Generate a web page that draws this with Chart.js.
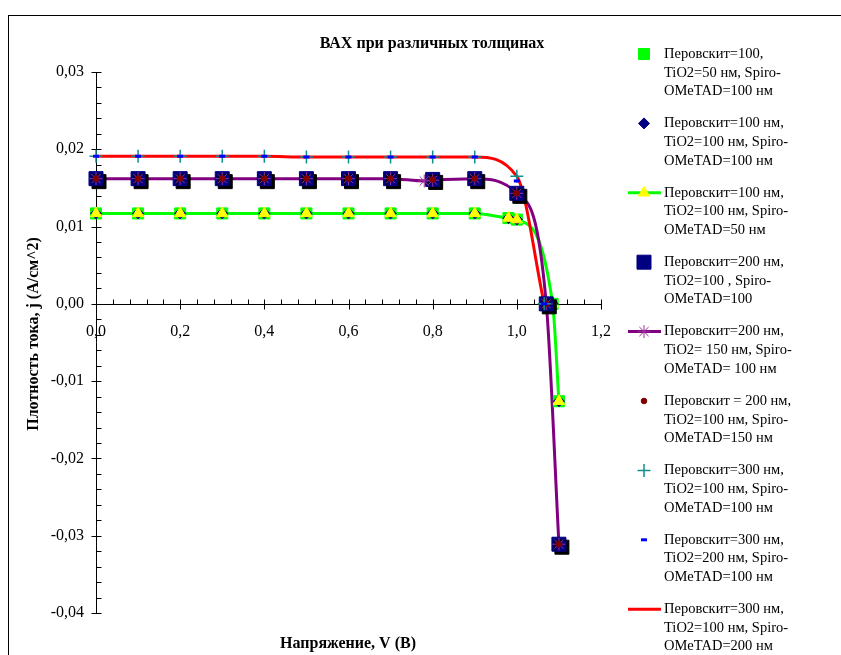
<!DOCTYPE html>
<html>
<head>
<meta charset="utf-8">
<title>ВАХ при различных толщинах</title>
<script src="https://cdn.jsdelivr.net/npm/chart.js@4/dist/chart.umd.min.js"></script>
<style>
  html, body { margin: 0; padding: 0; background: #fff; }
  canvas { display: block; }
</style>
</head>
<body>
<canvas id="ivChart" width="841" height="655"></canvas>
<script>
// напряжение V (B) и плотность тока j (А/см^2)
const vThin = [0, 0.1, 0.2, 0.3, 0.4, 0.5, 0.6, 0.7, 0.8, 0.9, 0.98, 1.0, 1.085, 1.1];
const jThin = [0.0117, 0.0117, 0.0117, 0.0117, 0.0117, 0.0117, 0.0117, 0.0117, 0.0117, 0.0117, 0.0111, 0.0109, 0, -0.0126];

const vMid = [0, 0.1, 0.2, 0.3, 0.4, 0.5, 0.6, 0.7, 0.8, 0.9, 1.0, 1.07, 1.1];
const jMid = [0.0162, 0.0162, 0.0162, 0.0162, 0.0162, 0.0162, 0.0162, 0.0162, 0.0161, 0.0162, 0.0143, 0, -0.0311];

const vMidStar = [0, 0.1, 0.2, 0.3, 0.4, 0.5, 0.6, 0.7, 0.78, 0.8, 0.9, 1.0, 1.07, 1.1];
const jMidStar = [0.0162, 0.0162, 0.0162, 0.0162, 0.0162, 0.0162, 0.0162, 0.0162, 0.0159, 0.016, 0.0162, 0.0143, 0, -0.0311];

const vThick = [0, 0.1, 0.2, 0.3, 0.4, 0.5, 0.6, 0.7, 0.8, 0.9, 1.0, 1.065];
const jThick = [0.0191, 0.0191, 0.0191, 0.0191, 0.0191, 0.019, 0.019, 0.019, 0.019, 0.019, 0.0165, 0];
const jThickDash = [0.0191, 0.0191, 0.0191, 0.0191, 0.0191, 0.019, 0.019, 0.019, 0.019, 0.019, 0.0159, 0];

const xTickValues = [0, 0.2, 0.4, 0.6, 0.8, 1.0, 1.2];
const xTickLabels = ['0,0', '0,2', '0,4', '0,6', '0,8', '1,0', '1,2'];
const yTickValues = [-0.04, -0.03, -0.02, -0.01, 0, 0.01, 0.02, 0.03];
const yTickLabels = ['-0,04', '-0,03', '-0,02', '-0,01', '0,00', '0,01', '0,02', '0,03'];

const seriesNames = [
  ['Перовскит=100,', 'TiO2=50 нм, Spiro-', 'OMeTAD=100 нм'],
  ['Перовскит=100 нм,', 'TiO2=100 нм, Spiro-', 'OMeTAD=100 нм'],
  ['Перовскит=100 нм,', 'TiO2=100 нм, Spiro-', 'OMeTAD=50 нм'],
  ['Перовскит=200 нм,', 'TiO2=100 , Spiro-', 'OMeTAD=100'],
  ['Перовскит=200 нм,', 'TiO2= 150 нм, Spiro-', 'OMeTAD= 100 нм'],
  ['Перовскит = 200 нм,', 'TiO2=100 нм, Spiro-', 'OMeTAD=150 нм'],
  ['Перовскит=300 нм,', 'TiO2=100 нм, Spiro-', 'OMeTAD=100 нм'],
  ['Перовскит=300 нм,', 'TiO2=200 нм, Spiro-', 'OMeTAD=100 нм'],
  ['Перовскит=300 нм,', 'TiO2=100 нм, Spiro-', 'OMeTAD=200 нм']
];

const seriesData = [
  [vThin, jThin], [vThin, jThin], [vThin, jThin],
  [vMid, jMid], [vMidStar, jMidStar], [vMid, jMid],
  [vThick, jThick], [vThick, jThickDash], [vThick, jThick]
];

const styles = [
  { marker: 'rect', r: 7.8, fill: '#00ff00' },
  { marker: 'rectRot', r: 5.5, fill: '#000080' },
  { marker: 'triangle', r: 6.5, fill: '#ffff00', line: '#00ff00' },
  { marker: 'rect', r: 9.9, fill: '#000080', shadow: true },
  { marker: 'star', r: 6.5, stroke: '#9b2f9b', line: '#800080' },
  { marker: 'circle', r: 2.8, fill: '#800000' },
  { marker: 'cross', r: 6.5, stroke: '#108f8f', bw: 1.5 },
  { marker: 'line', r: 3, stroke: '#0000ff', bw: 3 },
  { marker: false, line: '#ff0000' }
];

const datasets = [];
seriesData.forEach(([vs, js], i) => {
  const st = styles[i];
  const pts = vs.map((v, k) => ({ x: v, y: js[k] }));
  if (st.line) {
    datasets.push({
      data: pts, showLine: true, borderColor: st.line, borderWidth: 3,
      pointRadius: 0, pointHoverRadius: 0, cubicInterpolationMode: 'monotone', fill: false,
      clip: false, order: 100 - i
    });
  }
  if (st.marker) {
    datasets.push({
      data: pts, showLine: false, pointStyle: st.marker, pointRadius: st.r,
      pointHoverRadius: st.r,
      pointBackgroundColor: st.fill || st.stroke,
      pointBorderColor: st.stroke || st.fill,
      pointBorderWidth: st.bw || 1,
      clip: false, order: 50 - i, shadow: !!st.shadow
    });
  }
});

const serif = "'Liberation Serif', 'Times New Roman', serif";

const shadowPlugin = {
  id: 'shadow',
  beforeDatasetDraw(chart, args) {
    if (!chart.data.datasets[args.index].shadow) return;
    const ctx = chart.ctx;
    ctx.save();
    ctx.shadowColor = '#000';
    ctx.shadowOffsetX = 3;
    ctx.shadowOffsetY = 3;
    ctx.shadowBlur = 0;
  },
  afterDatasetDraw(chart, args) {
    if (chart.data.datasets[args.index].shadow) chart.ctx.restore();
  }
};

// оси с крестовыми основными и внутренними промежуточными делениями
const axesPlugin = {
  id: 'axes',
  beforeDatasetsDraw(chart) {
    const ctx = chart.ctx;
    const xs = chart.scales.x, ys = chart.scales.y;
    const x0 = Math.round(xs.getPixelForValue(0)) + 0.5;
    const y0 = Math.round(ys.getPixelForValue(0)) + 0.5;
    ctx.save();
    ctx.strokeStyle = '#000';
    ctx.lineWidth = 1;
    ctx.beginPath();
    ctx.moveTo(x0, ys.top); ctx.lineTo(x0, ys.bottom);
    ctx.moveTo(xs.left, y0); ctx.lineTo(xs.right, y0);
    for (let k = 0; k <= 35; k++) {
      const y = Math.round(ys.getPixelForValue(-0.04 + k * 0.002)) + 0.5;
      if (k % 5 === 0) { ctx.moveTo(x0 - 5, y); ctx.lineTo(x0 + 5, y); }
      else { ctx.moveTo(x0, y); ctx.lineTo(x0 + 5, y); }
    }
    for (let k = 0; k <= 30; k++) {
      const x = Math.round(xs.getPixelForValue(k * 0.04)) + 0.5;
      if (k % 5 === 0) { ctx.moveTo(x, y0 - 5); ctx.lineTo(x, y0 + 5); }
      else { ctx.moveTo(x, y0); ctx.lineTo(x, y0 - 5); }
    }
    ctx.stroke();
    ctx.restore();
  }
};

const textPlugin = {
  id: 'texts',
  afterDraw(chart) {
    const ctx = chart.ctx;
    ctx.save();
    // рамка
    ctx.strokeStyle = '#000';
    ctx.lineWidth = 1;
    ctx.strokeRect(8.5, 15.5, 900, 900);

    ctx.fillStyle = '#000';
    ctx.textBaseline = 'middle';
    ctx.textAlign = 'center';
    ctx.font = 'bold 16px ' + serif;
    ctx.fillText('ВАХ при различных толщинах', 432, 44);
    ctx.fillText('Напряжение, V (B)', 348, 644);
    ctx.save();
    ctx.translate(34, 334);
    ctx.rotate(-Math.PI / 2);
    ctx.fillText('Плотность тока, j (А/см^2)', 0, 0);
    ctx.restore();

    // легенда
    ctx.textAlign = 'left';
    ctx.font = '14.5px ' + serif;
    seriesNames.forEach((lines, i) => {
      const st = styles[i];
      const y = 54 + i * 69.4;
      if (st.line) {
        ctx.strokeStyle = st.line;
        ctx.lineWidth = 3;
        ctx.beginPath();
        ctx.moveTo(628, y); ctx.lineTo(661, y);
        ctx.stroke();
      }
      if (st.marker) {
        ctx.fillStyle = st.fill || st.stroke;
        ctx.strokeStyle = st.stroke || st.fill;
        ctx.lineWidth = st.bw || 1;
        Chart.helpers.drawPoint(ctx, { pointStyle: st.marker, radius: st.r, rotation: 0, borderWidth: st.bw || 1 }, 644, y);
      }
      ctx.fillStyle = '#000';
      lines.forEach((t, j) => ctx.fillText(t, 664, y + j * 18.7));
    });
    ctx.restore();
  }
};

new Chart(document.getElementById('ivChart'), {
  type: 'line',
  data: { datasets },
  options: {
    responsive: false,
    animation: false,
    events: [],
    layout: { padding: { left: 0, right: 240, top: 72, bottom: 42 } },
    plugins: { legend: { display: false }, tooltip: { enabled: false } },
    scales: {
      x: {
        type: 'linear', min: 0, max: 1.2,
        position: { y: 0 },
        afterBuildTicks: s => { s.ticks = xTickValues.map(v => ({ value: v })); },
        grid: { display: false, drawTicks: false },
        border: { display: false },
        ticks: { padding: 18, color: '#000', font: { family: serif, size: 16 }, maxRotation: 0,
          callback: (v, i) => xTickLabels[i] }
      },
      y: {
        type: 'linear', min: -0.04, max: 0.03,
        afterFit: s => { s.width = 96; },
        afterBuildTicks: s => { s.ticks = yTickValues.map(v => ({ value: v })); },
        grid: { display: false, drawTicks: false },
        border: { display: false },
        ticks: { padding: 12, color: '#000', font: { family: serif, size: 16 },
          callback: (v, i) => yTickLabels[i] }
      }
    }
  },
  plugins: [shadowPlugin, axesPlugin, textPlugin]
});
</script>
</body>
</html>
